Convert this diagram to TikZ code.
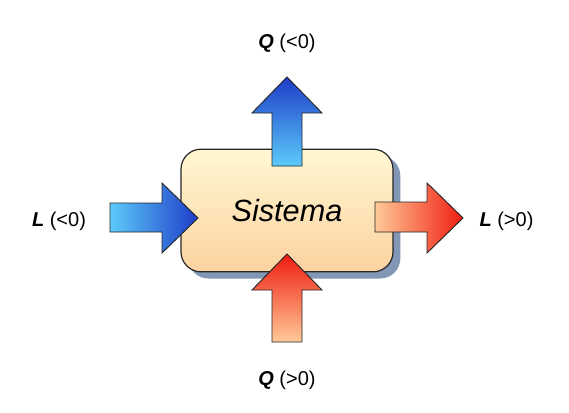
\documentclass[tikz,border=0pt]{standalone}
\usepackage{fontspec}
\setmainfont{Liberation Sans}
\usetikzlibrary{shadows}
\definecolor{boxtop}{HTML}{FFF8D2}
\definecolor{boxbot}{HTML}{FCD2A0}
\definecolor{shadowc}{HTML}{8197B5}
\definecolor{bluedark}{HTML}{1E3CC8}
\definecolor{bluelight}{HTML}{5CCBFA}
\definecolor{reddark}{HTML}{F01C10}
\definecolor{redlight}{HTML}{FFCA98}
\definecolor{edgec}{HTML}{262626}
\tikzset{
  sysbox/.style={draw=edgec, line width=0.9pt, rounded corners=15pt,
    minimum width=159pt, minimum height=92pt, top color=boxtop, bottom color=boxbot,
    drop shadow={shadow xshift=5.5pt, shadow yshift=-5pt, fill=shadowc, opacity=1},
    font=\fontsize{23}{27}\selectfont\itshape},
  arrowshape/.style={draw=edgec, line width=0.7pt, line join=miter},
  lbl/.style={font=\fontsize{15}{18}\selectfont, inner sep=0pt}
}
\begin{document}
\begin{tikzpicture}[x=0.75pt,y=-0.75pt]
\useasboundingbox (0,0) rectangle (569,412);
\node[sysbox] (sys) at (287,210.5) {Sistema};
% top arrow Q<0 (out)
\path[arrowshape, top color=bluedark, bottom color=bluelight]
  (272,166) -- (272,113) -- (252,113) -- (287,77) -- (322,113) -- (302,113) -- (302,166) -- cycle;
% bottom arrow Q>0 (in)
\path[arrowshape, top color=reddark, bottom color=redlight]
  (272,342) -- (272,290) -- (252,290) -- (287,254) -- (322,290) -- (302,290) -- (302,342) -- cycle;
% left arrow L<0 (in)
\path[arrowshape, left color=bluelight, right color=bluedark]
  (110,203) -- (162,203) -- (162,183) -- (198,218) -- (162,253) -- (162,232) -- (110,232) -- cycle;
% right arrow L>0 (out)
\path[arrowshape, left color=redlight, right color=reddark]
  (375,202) -- (427,202) -- (427,183) -- (463,218) -- (427,253) -- (427,232) -- (375,232) -- cycle;
% labels
\node[lbl] (qout) at (287,43) {\textbf{\textit{Q}} (<0)};
\node[lbl] (qin) at (287,380) {\textbf{\textit{Q}} (>0)};
\node[lbl] (lin) at (59,221) {\textbf{\textit{L}} (<0)};
\node[lbl] (lout) at (506.5,221) {\textbf{\textit{L}} (>0)};
\end{tikzpicture}
\end{document}
